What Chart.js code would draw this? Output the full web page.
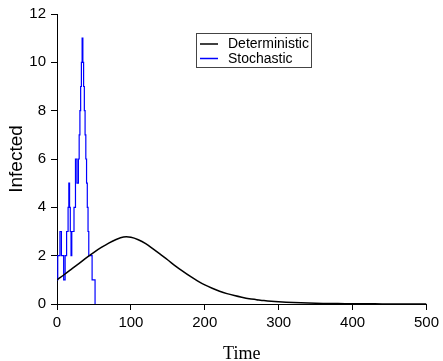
<!DOCTYPE html>
<html>
<head>
<meta charset="utf-8">
<script src="https://cdn.jsdelivr.net/npm/chart.js@4.4.1/dist/chart.umd.min.js"></script>
<style>
html,body{margin:0;padding:0;background:#fff;}
#wrap{width:443px;height:361px;}
</style>
</head>
<body>
<div id="wrap"><canvas id="c" width="443" height="361"></canvas></div>
<script>
// Deterministic model
const detTime = [0,10,20,30,40,50,60,70,80,90,100,110,120,130,140,150,160,170,180,190,200,210,220,230,240,250,260,270,280,290,300,320,340,360,380,400,420,440,460,480,500];
const detInfected = [1.00,1.22,1.45,1.68,1.92,2.14,2.34,2.52,2.67,2.77,2.76,2.66,2.50,2.28,2.05,1.82,1.58,1.36,1.15,0.96,0.79,0.65,0.53,0.43,0.35,0.28,0.22,0.18,0.14,0.11,0.09,0.06,0.04,0.025,0.016,0.01,0.007,0.004,0.003,0.002,0.001];
// Stochastic realisation (step function; value holds from each time until the next)
const stoTime = [0,1,4,6,9,11,13,15,16,17,18,19,20,23,25,27,29,30,31,32,33,34,35,36,37,38,39,40,41,42,43,47.5,51.5,52];
const stoInfected = [1,2,3,2,1,2,3,4,5,4,3,2,3,4,6,5,6,7,8,9,10,11,10,9,8,7,6,5,4,3,2,1,0,0];
const seriesLabels = ["Deterministic","Stochastic"];
const xTicks = [0,100,200,300,400,500];
const yTicks = [0,2,4,6,8,10,12];

const toPts = (xs, ys) => xs.map((x, i) => ({x: x, y: ys[i]}));

const legendPlugin = {
  id: 'boxLegend',
  afterDraw(chart) {
    const ctx = chart.ctx;
    const ds = chart.data.datasets;
    ctx.save();
    ctx.strokeStyle = '#444';
    ctx.lineWidth = 1;
    ctx.strokeRect(196.5, 33.5, 115, 34);
    ctx.font = '14px "Liberation Sans", Arial, sans-serif';
    ctx.textBaseline = 'middle';
    ctx.textAlign = 'left';
    ds.forEach((d, i) => {
      const y = 44 + i * 14.5;
      ctx.strokeStyle = d.borderColor;
      ctx.lineWidth = 1.5;
      ctx.beginPath();
      ctx.moveTo(200, y);
      ctx.lineTo(218, y);
      ctx.stroke();
      ctx.fillStyle = '#000';
      ctx.fillText(d.label, 228, y + 0.5);
    });
    ctx.restore();
  }
};

new Chart(document.getElementById('c'), {
  type: 'line',
  data: {
    datasets: [
      {label: seriesLabels[0], data: toPts(detTime, detInfected), borderColor: '#000000', borderWidth: 1.5, pointRadius: 0, tension: 0.3, fill: false},
      {label: seriesLabels[1], data: toPts(stoTime, stoInfected), borderColor: '#0000ff', borderWidth: 1.2, pointRadius: 0, stepped: true, fill: false}
    ]
  },
  options: {
    responsive: false,
    animation: false,
    layout: {padding: {left: 0, top: 14, right: 14, bottom: 0}},
    plugins: {legend: {display: false}, tooltip: {enabled: false}},
    scales: {
      x: {
        type: 'linear', min: 0, max: 500,
        afterBuildTicks: (axis) => { axis.ticks = xTicks.map(v => ({value: v})); },
        afterFit: (axis) => { axis.height = 57; },
        grid: {display: true, drawOnChartArea: false, drawTicks: true, tickLength: 6, color: '#000', tickColor: '#000', tickWidth: 1},
        border: {display: true, color: '#000', width: 1},
        ticks: {color: '#000', padding: 4, maxRotation: 0, font: {family: '"Liberation Sans", Arial, sans-serif', size: 15}},
        title: {display: true, text: 'Time', color: '#000', padding: {top: 0, bottom: 0}, font: {family: '"Liberation Serif", "Times New Roman", serif', size: 18, lineHeight: 0.8}}
      },
      y: {
        type: 'linear', min: 0, max: 12,
        afterBuildTicks: (axis) => { axis.ticks = yTicks.map(v => ({value: v})); },
        afterFit: (axis) => { axis.width = 57; },
        grid: {display: true, drawOnChartArea: false, drawTicks: true, tickLength: 6, color: '#000', tickColor: '#000', tickWidth: 1},
        border: {display: true, color: '#000', width: 1},
        ticks: {color: '#000', padding: 5, font: {family: '"Liberation Sans", Arial, sans-serif', size: 15}},
        title: {display: true, text: 'Infected', color: '#000', padding: {top: 7, bottom: 0}, font: {family: '"Liberation Sans", Arial, sans-serif', size: 19, lineHeight: 1}}
      }
    }
  },
  plugins: [legendPlugin]
});
</script>
</body>
</html>
